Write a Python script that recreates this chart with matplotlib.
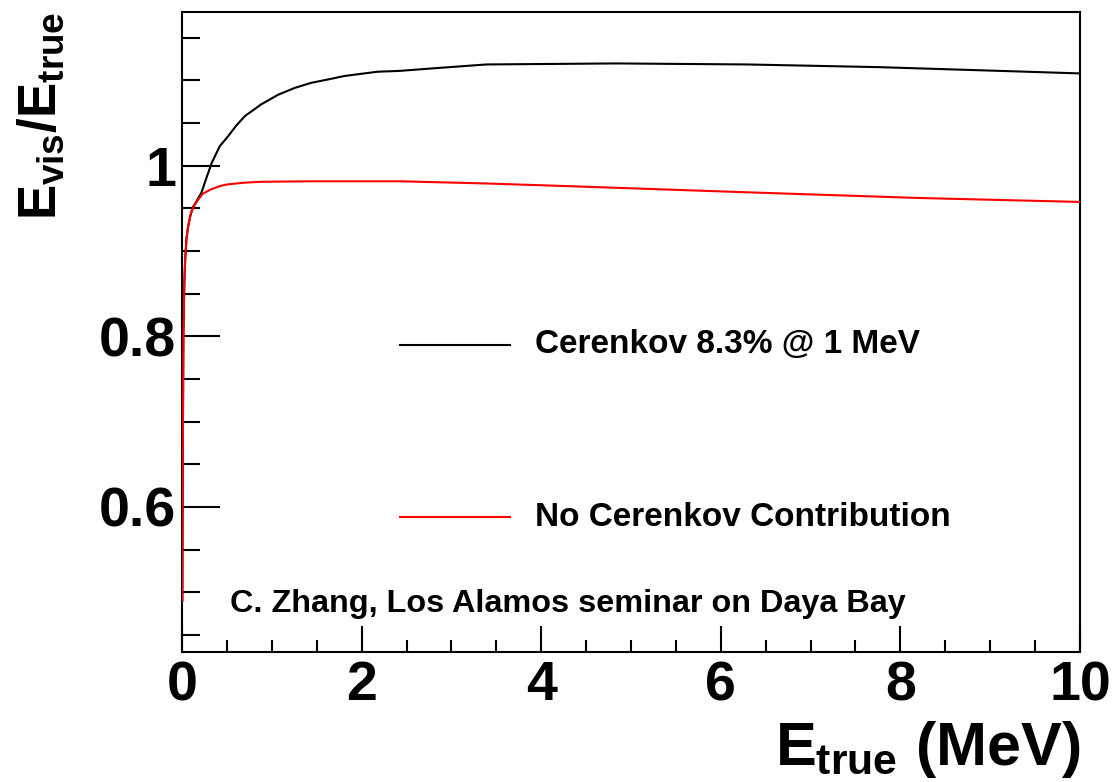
import matplotlib
matplotlib.use("Agg")
import matplotlib.pyplot as plt
from matplotlib.ticker import MultipleLocator

plt.rcParams['font.family'] = ['Liberation Sans', 'DejaVu Sans']
plt.rcParams['font.weight'] = 'bold'
plt.rcParams['mathtext.fontset'] = 'custom'
plt.rcParams['mathtext.rm'] = 'Liberation Sans:bold'
plt.rcParams['mathtext.it'] = 'Liberation Sans:bold'
plt.rcParams['mathtext.bf'] = 'Liberation Sans:bold'

# visible / true energy ratio, with Cerenkov light
e_cer = [0.003, 0.008, 0.015, 0.025, 0.035, 0.05, 0.067, 0.09, 0.12, 0.16,
         0.215, 0.25, 0.33, 0.42, 0.51, 0.605, 0.70, 0.88, 1.07, 1.255, 1.44,
         1.63, 1.81, 2.0, 2.18, 2.43, 2.74, 3.39, 4.84, 6.29, 7.74, 9.19, 10.0]
r_cer = [0.49, 0.65, 0.80, 0.86, 0.89, 0.915, 0.928, 0.94, 0.951, 0.958,
         0.968, 0.979, 1.003, 1.0227, 1.034, 1.047, 1.058, 1.0716, 1.083, 1.091, 1.097,
         1.101, 1.105, 1.1076, 1.110, 1.111, 1.1135, 1.1185, 1.1197, 1.1185, 1.1154,
         1.1107, 1.108]

# same, scintillation only
e_scint = [0.003, 0.008, 0.015, 0.025, 0.035, 0.05, 0.067, 0.10, 0.14, 0.18,
           0.23, 0.32, 0.42, 0.51, 0.70, 0.88, 1.44, 2.43, 3.4, 4.36, 6.29, 8.22, 10.0]
r_scint = [0.49, 0.65, 0.80, 0.86, 0.89, 0.915, 0.928, 0.945, 0.954, 0.960,
           0.967, 0.972, 0.976, 0.978, 0.980, 0.981, 0.9816, 0.9816, 0.979, 0.9757,
           0.9687, 0.962, 0.9574]

labels = ["Cerenkov 8.3% @ 1 MeV", "No Cerenkov Contribution"]
note = "C. Zhang, Los Alamos seminar on Daya Bay"

fig = plt.figure(figsize=(11.12, 7.82), dpi=100)
ax = fig.add_axes([0.1637, 0.1662, 0.8075, 0.8185])

ax.plot(e_cer, r_cer, color='black', lw=1.5, zorder=3)
ax.plot(e_scint, r_scint, color='red', lw=1.5, zorder=3)

ax.set_xlim(0, 10)
ax.set_ylim(0.43, 1.18)
ax.xaxis.set_major_locator(MultipleLocator(2))
ax.xaxis.set_minor_locator(MultipleLocator(0.5))
ax.yaxis.set_major_locator(MultipleLocator(0.2))
ax.yaxis.set_minor_locator(MultipleLocator(0.05))
ax.yaxis.set_major_formatter(plt.FuncFormatter(lambda v, p: "%g" % round(v, 2)))

ax.tick_params(axis='both', which='both', direction='in', top=False, right=False,
               width=1.5)
ax.tick_params(axis='y', which='major', length=27, labelsize=40, pad=4)
ax.tick_params(axis='y', which='minor', length=13)
ax.tick_params(axis='x', which='major', length=19, labelsize=40, pad=6)
ax.tick_params(axis='x', which='minor', length=9)
for s in ax.spines.values():
    s.set_linewidth(1.5)

ax.set_xlabel(r'$E_{true}$ (MeV)', fontsize=44, fontweight='bold')
ax.xaxis.set_label_coords(1.0, -0.105)
ax.xaxis.label.set_horizontalalignment('right')
ax.set_ylabel(r'$E_{vis}/E_{true}$', fontsize=38, fontweight='bold')
ax.yaxis.set_label_coords(-0.128, 1.0)
ax.yaxis.label.set_horizontalalignment('right')

# hand-placed legend entries
ax.plot([0.2428, 0.3653], [0.4797, 0.4797], color='black', lw=1.5,
        transform=ax.transAxes)
ax.plot([0.2428, 0.3653], [0.2109, 0.2109], color='red', lw=1.5,
        transform=ax.transAxes)
ax.text(0.393, 0.4797, labels[0], transform=ax.transAxes, fontsize=24,
        fontweight='bold', va='center')
ax.text(0.393, 0.2109, labels[1], transform=ax.transAxes, fontsize=24,
        fontweight='bold', va='center')

ax.text(0.0535, 0.075, note, transform=ax.transAxes, fontsize=23.3,
        fontweight='bold', va='center')

fig.savefig("out.png", dpi=100)
